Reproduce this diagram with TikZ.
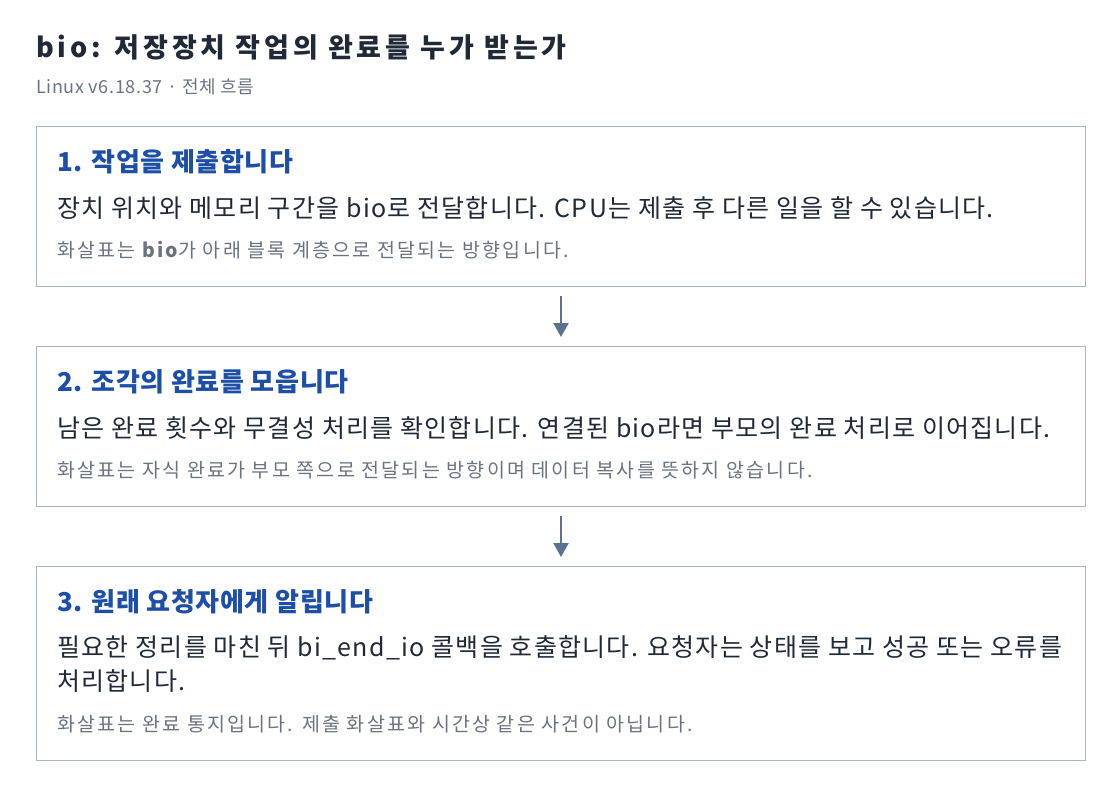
\documentclass[tikz,border=0pt]{standalone}
\usepackage{fontspec}
\setmainfont{Noto Sans CJK KR}
\usetikzlibrary{arrows.meta}
\definecolor{inkdark}{HTML}{1F2937}
\definecolor{inkblue}{HTML}{1D4FA8}
\definecolor{inkgray}{HTML}{6B7280}
\definecolor{boxgray}{HTML}{A9B4C2}
\definecolor{arrowgray}{HTML}{5B7190}
\tikzset{
  stepbox/.style={draw=boxgray, line width=1pt, fill=white, anchor=north west,
    minimum width=1049pt, inner sep=0pt},
  headtext/.style={anchor=base west, inner sep=0pt, text=inkblue,
    font=\fontsize{26}{30}\selectfont\bfseries\addfontfeatures{LetterSpace=2.5}},
  bodytext/.style={anchor=base west, inner sep=0pt, text=inkdark,
    font=\fontsize{25}{34}\selectfont\addfontfeatures{LetterSpace=5}},
  notetext/.style={anchor=base west, inner sep=0pt, text=inkgray,
    font=\fontsize{19.5}{22}\selectfont\addfontfeatures{LetterSpace=11.5}},
  flow/.style={draw=arrowgray, line width=2.5pt, -{Triangle[length=14pt,width=15pt]}, shorten <=9pt, shorten >=9pt}
}
\begin{document}
\begin{tikzpicture}[x=1pt,y=-1pt]
	\useasboundingbox (0,0) rectangle (1120,788);
	\node[anchor=base west, inner sep=0pt, text=inkdark, font=\fontsize{27}{32}\selectfont\bfseries\addfontfeatures{LetterSpace=14.5}] (title) at (36,57) {bio: 저장장치 작업의 완료를 누가 받는가};
	\node[anchor=base west, inner sep=0pt, text=inkgray, font=\fontsize{18}{22}\selectfont\addfontfeatures{LetterSpace=3.5}] (sub) at (36,93) {Linux v6.18.37 · 전체 흐름};
	% step 1
	\node[stepbox, minimum height=160pt] (s1) at (36,126) {};
	\node[headtext] (h1) at (57,171) {1. 작업을 제출합니다};
	\node[bodytext] (b1) at (57,217) {장치 위치와 메모리 구간을 bio로 전달합니다. CPU는 제출 후 다른 일을 할 수 있습니다.};
	\node[notetext] (n1) at (57,257) {화살표는 {\bfseries bio}가 아래 블록 계층으로 전달되는 방향입니다.};
	% step 2
	\node[stepbox, minimum height=160pt] (s2) at (36,346) {};
	\node[headtext] (h2) at (57,391) {2. 조각의 완료를 모읍니다};
	\node[bodytext] (b2) at (57,437) {남은 완료 횟수와 무결성 처리를 확인합니다. 연결된 bio라면 부모의 완료 처리로 이어집니다.};
	\node[notetext] (n2) at (57,477) {화살표는 자식 완료가 부모 쪽으로 전달되는 방향이며 데이터 복사를 뜻하지 않습니다.};
	% step 3
	\node[stepbox, minimum height=194pt] (s3) at (36,566) {};
	\node[headtext] (h3) at (57,611) {3. 원래 요청자에게 알립니다};
	\node[bodytext] (b3) at (57,656) {필요한 정리를 마친 뒤 bi\_end\_io 콜백을 호출합니다. 요청자는 상태를 보고 성공 또는 오류를};
	\node[bodytext] (b3b) at (57,690) {처리합니다.};
	\node[notetext] (n3) at (57,731) {화살표는 완료 통지입니다. 제출 화살표와 시간상 같은 사건이 아닙니다.};
	% connectors
	\draw[flow] (s1.south) -- (s2.north);
	\draw[flow] (s2.south) -- (s3.north);
\end{tikzpicture}
\end{document}
